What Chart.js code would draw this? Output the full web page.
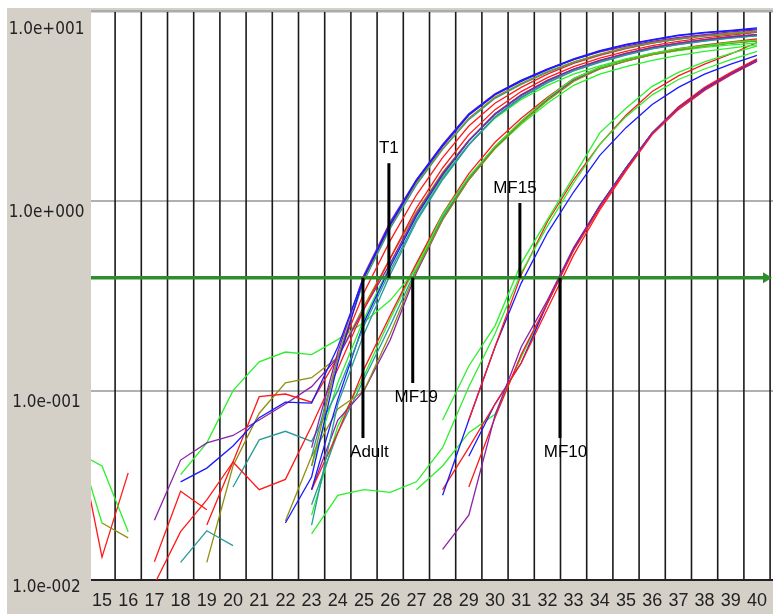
<!DOCTYPE html>
<html><head><meta charset="utf-8">
<script src="https://cdn.jsdelivr.net/npm/chart.js@4"></script>
<style>html,body{margin:0;padding:0;background:#fff;}canvas{display:block;}</style>
</head><body>
<canvas id="c" width="773" height="614"></canvas>
<script>
const N = null;
// cycle numbers (x values of every series)
const cycles = [14,15,16,17,18,19,20,21,22,23,24,25,26,27,28,29,30,31,32,33,34,35,36,37,38,39,40];
const xTickLabels = ["15","16","17","18","19","20","21","22","23","24","25","26","27","28","29","30","31","32","33","34","35","36","37","38","39","40"];
const yTickValues = [10, 1, 0.1, 0.01];
const yTickLabels = ["1.0e+001","1.0e+000","1.0e-001","1.0e-002"];
const threshold = 0.395;

// marker annotations: name, cycle, value at the free end of the marker line
const markerNames = ["T1","MF15","Adult","MF19","MF10"];
const markerCycles = [25.95, 30.95, 24.96, 26.86, 32.48];
const markerEnds = [1.59, 0.98, 0.0562, 0.1098, 0.0562];

// fluorescence (delta Rn) per cycle, cycles 14..40
const blueA1   = [N,N,N,N,0.033,0.039,0.051,0.072,0.087,0.086,0.17,0.40,0.75,1.28,1.95,2.85,3.65,4.3,4.95,5.6,6.2,6.7,7.1,7.5,7.75,7.95,8.15];
const blueA1b  = [N,N,N,N,N,N,N,N,0.02,0.035,0.14,0.40,0.76,1.3,1.98,2.88,3.68,4.35,5.0,5.65,6.25,6.75,7.15,7.55,7.8,8.0,8.25];
const purpleA1 = [N,N,N,N,N,N,N,N,N,0.05,0.16,0.41,0.78,1.3,2.0,2.9,3.7,4.35,5.0,5.6,6.15,6.6,7.0,7.35,7.6,7.85,8.05];
const oliveA1  = [N,N,N,N,N,N,N,N,N,0.04,0.15,0.39,0.74,1.25,1.9,2.75,3.55,4.2,4.85,5.45,6.0,6.5,6.9,7.25,7.5,7.7,7.9];
const tealA1   = [N,N,N,N,N,N,N,N,N,0.045,0.15,0.38,0.72,1.22,1.88,2.7,3.5,4.15,4.8,5.4,5.95,6.45,6.85,7.2,7.45,7.65,7.85];
const redA1    = [N,N,N,0.0095,0.018,0.0265,0.042,0.093,0.096,0.087,0.15,0.33,0.62,1.08,1.7,2.5,3.3,4.0,4.7,5.35,5.9,6.4,6.85,7.2,7.5,7.7,7.9];
const redA2    = [N,N,N,N,N,0.0195,0.042,0.030,0.034,0.065,0.13,0.27,0.5,0.92,1.5,2.25,3.05,3.8,4.5,5.15,5.7,6.2,6.65,7.0,7.3,7.55,7.8];
const purpleA2 = [N,N,N,0.0207,0.043,0.053,0.058,0.07,0.085,0.105,0.15,0.27,0.47,0.86,1.4,2.1,2.9,3.65,4.35,5.0,5.55,6.05,6.5,6.85,7.15,7.4,7.6];
const tealA2   = [N,N,N,N,N,N,0.031,0.055,0.061,0.054,0.1,0.22,0.43,0.8,1.32,2.0,2.8,3.55,4.25,4.9,5.45,5.95,6.4,6.75,7.05,7.3,7.5];
const oliveA2  = [N,N,N,N,N,0.0124,0.040,0.076,0.11,0.117,0.15,0.28,0.5,0.88,1.42,2.1,2.9,3.65,4.35,5.0,5.55,6.05,6.5,6.85,7.15,7.4,7.6];
const blueA2   = [N,N,N,N,N,N,N,N,N,0.03,0.09,0.23,0.45,0.84,1.38,2.08,2.88,3.62,4.32,4.97,5.52,6.02,6.48,6.82,7.12,7.38,7.6];
const tealA2b  = [N,N,N,N,N,N,N,N,N,0.0195,0.085,0.2,0.41,0.78,1.3,1.98,2.78,3.52,4.22,4.88,5.42,5.92,6.38,6.72,7.02,7.28,7.48];
const greenA2  = [N,N,N,N,N,N,N,N,N,0.04,0.11,0.24,0.46,0.83,1.35,2.0,2.75,3.45,4.1,4.7,5.2,5.65,6.05,6.4,6.65,6.9,7.1];
const oliveA3  = [N,N,N,N,N,N,N,N,0.0205,0.045,0.08,0.1,0.2,0.43,0.8,1.3,1.9,2.6,3.4,4.3,5.0,5.5,5.95,6.3,6.6,6.85,7.05];
const greenA3  = [N,N,N,N,0.036,0.053,0.10,0.142,0.16,0.155,0.186,0.23,0.30,0.44,0.85,1.35,1.95,2.65,3.5,4.45,5.1,5.55,5.95,6.25,6.5,6.7,6.85];
const redA3    = [N,N,N,N,N,N,N,N,N,0.03,0.06,0.13,0.25,0.47,0.86,1.4,2.05,2.75,3.55,4.45,5.1,5.6,6.05,6.4,6.7,6.95,7.2];
const purpleA3 = [N,N,N,N,N,N,N,N,N,0.03,0.07,0.1,0.185,0.42,0.8,1.3,1.92,2.62,3.45,4.35,5.0,5.5,5.95,6.3,6.6,6.85,7.05];
const tealA3   = [N,N,N,N,N,N,N,N,N,0.025,0.06,0.115,0.22,0.44,0.82,1.33,1.95,2.65,3.48,4.4,5.05,5.55,6.0,6.35,6.65,6.9,7.1];
const greenA3b = [N,N,N,N,N,N,N,N,N,0.022,0.065,0.12,0.24,0.46,0.84,1.32,1.9,2.55,3.3,4.1,4.7,5.15,5.55,5.9,6.2,6.45,6.7];
const greenB1  = [N,N,N,N,N,N,N,N,N,N,N,N,N,N,0.07,0.135,0.22,0.47,0.8,1.35,2.3,3.1,4.05,4.8,5.45,6.05,6.6];
const greenB2  = [N,N,N,N,N,N,N,N,N,0.0175,0.028,0.030,0.029,0.033,0.05,0.105,0.2,0.42,0.74,1.25,2.0,2.8,3.65,4.4,5.0,5.6,6.2];
const redB     = [N,N,N,N,N,N,N,N,N,N,N,N,N,N,N,0.07,0.17,0.41,0.78,1.3,2.0,2.85,3.8,4.6,5.3,6.0,6.9];
const blueB    = [N,N,N,N,N,N,N,N,N,N,N,N,N,N,0.028,0.07,0.17,0.37,0.68,1.12,1.75,2.45,3.25,4.0,4.7,5.3,5.9];
const purpleC  = [N,N,N,N,N,N,N,N,N,N,N,N,N,N,0.0145,0.022,0.074,0.17,0.30,0.57,0.95,1.5,2.3,3.1,3.9,4.7,5.5];
const redC1    = [N,N,N,N,N,N,N,N,N,N,N,N,N,N,N,0.031,0.072,0.155,0.29,0.55,0.92,1.48,2.3,3.15,4.0,4.8,5.65];
const redC2    = [N,N,N,N,N,N,N,N,N,N,N,N,N,N,0.03,0.05,0.085,0.14,0.27,0.52,0.9,1.45,2.25,3.05,3.85,4.65,5.5];
const blueC    = [N,N,N,N,N,N,N,N,N,N,N,N,N,N,N,0.045,0.085,0.14,0.29,0.56,0.95,1.5,2.3,3.15,3.95,4.75,5.6];
const greenC   = [N,N,N,N,N,N,N,N,N,N,N,N,N,0.03,0.04,0.06,0.075,0.15,0.29,0.56,0.95,1.5,2.3,3.1,3.9,4.7,5.55];
// short noisy baseline fragments
const greenL1  = [0.0475,0.040,0.018,N,N,N,N,N,N,N,N,N,N,N,N,N,N,N,N,N,N,N,N,N,N,N,N];
const greenL2  = [0.057,0.020,N,N,N,N,N,N,N,N,N,N,N,N,N,N,N,N,N,N,N,N,N,N,N,N,N];
const oliveL   = [N,0.020,0.0167,N,N,N,N,N,N,N,N,N,N,N,N,N,N,N,N,N,N,N,N,N,N,N,N];
const redL     = [0.065,0.0132,0.0368,N,N,N,N,N,N,N,N,N,N,N,N,N,N,N,N,N,N,N,N,N,N,N,N];
const redF     = [N,N,N,0.0125,0.0294,0.0235,N,N,N,N,N,N,N,N,N,N,N,N,N,N,N,N,N,N,N,N,N];
const tealF    = [N,N,N,N,0.0124,0.0182,0.0152,N,N,N,N,N,N,N,N,N,N,N,N,N,N,N,N,N,N,N,N];

// styles
const COL = {red:'#ff1a1a', green:'#2cf02c', blue:'#1a1aff', purple:'#8a23a8', olive:'#8f8f12', teal:'#2a9a9a'};
const seriesList = [
  [blueA1,'blue'],[blueA1b,'blue'],[purpleA1,'purple'],[oliveA1,'olive'],[tealA1,'teal'],[redA1,'red'],
  [redA2,'red'],[purpleA2,'purple'],[tealA2,'teal'],[oliveA2,'olive'],[blueA2,'blue'],[tealA2b,'teal'],[greenA2,'green'],
  [oliveA3,'olive'],[greenA3,'green'],[redA3,'red'],[purpleA3,'purple'],[tealA3,'teal'],[greenA3b,'green'],
  [greenB1,'green'],[greenB2,'green'],[redB,'red'],[blueB,'blue'],
  [purpleC,'purple'],[redC1,'red'],[redC2,'red'],[blueC,'blue'],[greenC,'green'],
  [greenL1,'green'],[greenL2,'green'],[oliveL,'olive'],[redL,'red'],[redF,'red'],[tealF,'teal']
];
const datasets = seriesList.map(([arr,c]) => ({
  data: cycles.map((x,i) => ({x, y: arr[i]})),
  borderColor: COL[c], borderWidth: 1.3, pointRadius: 0, tension: 0, spanGaps: false, clip: 0, fill: false
}));

const FRAME = '#d4d0c8';
const deco = {
  id: 'deco',
  beforeDraw(chart) {
    const {ctx, chartArea: a, scales: {x, y}} = chart;
    ctx.save();
    ctx.fillStyle = '#fff'; ctx.fillRect(0, 0, chart.width, chart.height);
    ctx.fillStyle = FRAME; ctx.fillRect(7, 8, chart.width - 7, chart.height - 8);
    ctx.fillStyle = '#fff'; ctx.fillRect(a.left, a.top, a.right - a.left, a.bottom - a.top);
    // top border
    ctx.fillStyle = '#ababab'; ctx.fillRect(a.left, a.top - 2, a.right - a.left, 2.5);
    // horizontal decade lines
    ctx.strokeStyle = '#b0b0b0'; ctx.lineWidth = 2;
    [1, 0.1].forEach(v => { const py = Math.round(y.getPixelForValue(v)); ctx.beginPath(); ctx.moveTo(a.left, py); ctx.lineTo(a.right, py); ctx.stroke(); });
    // vertical cycle boundaries
    ctx.strokeStyle = '#1a1a1a'; ctx.lineWidth = 1.6;
    for (let c = 15; c <= 40; c++) {
      const px = x.getPixelForValue(c + 0.5);
      ctx.beginPath(); ctx.moveTo(px, a.top); ctx.lineTo(px, a.bottom); ctx.stroke();
    }
    // bottom axis
    ctx.strokeStyle = '#222'; ctx.lineWidth = 2;
    ctx.beginPath(); ctx.moveTo(a.left, a.bottom); ctx.lineTo(a.right, a.bottom); ctx.stroke();
    // y labels
    ctx.fillStyle = '#222'; ctx.textAlign = 'center'; ctx.textBaseline = 'middle';
    ctx.font = '17px "Liberation Sans Narrow", "DejaVu Sans Condensed", "Liberation Sans", sans-serif';
    yTickValues.forEach((v, i) => {
      let py = y.getPixelForValue(v) + 11.5;
      py = Math.max(30, Math.min(588, py));
      ctx.fillText(yTickLabels[i], 46.5, py);
    });
    // x labels
    ctx.font = '18px "Liberation Sans", Arial, sans-serif';
    xTickLabels.forEach(l => ctx.fillText(l, x.getPixelForValue(+l), 601.5));
    ctx.restore();
  },
  afterDatasetsDraw(chart) {
    const {ctx, chartArea: a, scales: {x, y}} = chart;
    ctx.save();
    const ty = y.getPixelForValue(threshold);
    ctx.strokeStyle = '#2e8e2e'; ctx.lineWidth = 3.5;
    ctx.beginPath(); ctx.moveTo(a.left, ty); ctx.lineTo(a.right - 8, ty); ctx.stroke();
    ctx.fillStyle = '#2e8e2e';
    ctx.beginPath(); ctx.moveTo(a.right - 1, ty); ctx.lineTo(a.right - 10, ty - 5.5); ctx.lineTo(a.right - 10, ty + 5.5); ctx.closePath(); ctx.fill();
    // markers
    const dx = [0, -5, 6.5, 3.5, 5.5];
    ctx.strokeStyle = '#000'; ctx.lineWidth = 3; ctx.fillStyle = '#000';
    ctx.font = '17px "Liberation Sans", Arial, sans-serif'; ctx.textAlign = 'center'; ctx.textBaseline = 'middle';
    markerNames.forEach((name, i) => {
      const px = x.getPixelForValue(markerCycles[i]);
      const ey = y.getPixelForValue(markerEnds[i]);
      ctx.beginPath(); ctx.moveTo(px, ty); ctx.lineTo(px, ey); ctx.stroke();
      const ly = ey < ty ? ey - 15 : ey + 14;
      ctx.fillText(name, px + dx[i], ly);
    });
    ctx.restore();
  }
};

new Chart(document.getElementById('c'), {
  type: 'line',
  data: { datasets },
  options: {
    responsive: false, animation: false, devicePixelRatio: 1, events: [],
    layout: { padding: { left: 91, right: 0, top: 12, bottom: 34 } },
    plugins: { legend: { display: false }, tooltip: { enabled: false } },
    scales: {
      x: { type: 'linear', min: 14.58, max: 40.611, display: false },
      y: { type: 'logarithmic', min: 0.01, max: 10, display: false }
    }
  },
  plugins: [deco]
});
</script>
</body></html>
